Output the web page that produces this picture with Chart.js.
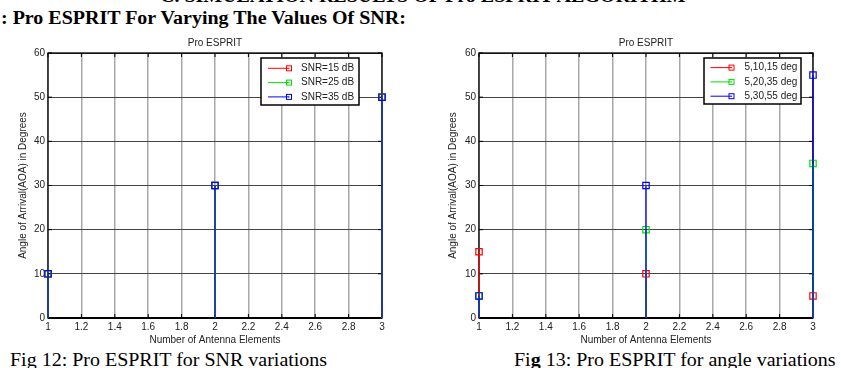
<!DOCTYPE html>
<html>
<head>
<meta charset="utf-8">
<script src="https://cdn.jsdelivr.net/npm/chart.js@4/dist/chart.umd.min.js"></script>
<style>
  html, body { margin: 0; padding: 0; background: #fff; }
  body { width: 841px; height: 368px; position: relative; overflow: hidden; }
  .abs { position: absolute; white-space: nowrap; transform-origin: 0 0; transform: scaleX(1.11); }
  .hdr { font-family: 'Liberation Serif', 'Times New Roman', serif; font-weight: bold; color: #000; font-size: 18px; }
  .cap { font-family: 'Liberation Serif', 'Times New Roman', serif; color: #000; font-size: 18px; }
  canvas { position: absolute; }
</style>
</head>
<body>
<div class="abs hdr" id="h1" style="left:160px; top:-14px;">C. SIMULATION RESULTS OF Pro ESPRIT ALGORITHM</div>
<div class="abs hdr" id="h2" style="left:1px; top:8px;">: Pro ESPRIT For Varying The Values Of SNR:</div>
<canvas id="c1" width="430" height="320" style="left:0px; top:30px;"></canvas>
<canvas id="c2" width="411" height="320" style="left:430px; top:30px;"></canvas>
<div class="abs cap" id="cap1" style="left:10px; top:350px;">Fig 12: Pro ESPRIT for SNR variations</div>
<div class="abs cap" id="cap2" style="left:514px; top:350px;">Fi<b>g</b> 13: Pro ESPRIT for angle variations</div>
<script>
// ---- data ----
const antennaElements = [1, 2, 3];
const xTickValues = [1, 1.2, 1.4, 1.6, 1.8, 2, 2.2, 2.4, 2.6, 2.8, 3];
const xTickLabels = ['1', '1.2', '1.4', '1.6', '1.8', '2', '2.2', '2.4', '2.6', '2.8', '3'];
const yTickValues = [0, 10, 20, 30, 40, 50, 60];

const snrLabels = ['SNR=15 dB', 'SNR=25 dB', 'SNR=35 dB'];
const snr15 = [10, 30, 50];
const snr25 = [10, 30, 50];
const snr35 = [10, 30, 50];

const angleLabels = ['5,10,15 deg', '5,20,35 deg', '5,30,55 deg'];
const angleSet1 = [15, 10, 5];
const angleSet2 = [5, 20, 35];
const angleSet3 = [5, 30, 55];

const chartTitle = 'Pro ESPRIT';
const xTitle = 'Number of Antenna Elements';
const yTitle = 'Angle of Arrival(AOA) in Degrees';

const seriesColors = ['#ff0000', '#00e000', '#0000ff'];

// ---- helpers ----
function stemData(vals) {
  const out = [];
  vals.forEach((v, i) => {
    out.push({ x: antennaElements[i], y: 0, base: true });
    out.push({ x: antennaElements[i], y: v });
    out.push({ x: antennaElements[i], y: null });
  });
  return out;
}

function makeDatasets(labels, seriesList) {
  return seriesList.map((vals, i) => ({
    label: labels[i],
    data: stemData(vals),
    borderColor: seriesColors[i],
    backgroundColor: 'rgba(0,0,0,0)',
    borderWidth: 1.2,
    pointStyle: 'rect',
    pointRadius: ctx => (ctx.raw && !ctx.raw.base && ctx.raw.y != null) ? 4.5 : 0,
    pointHoverRadius: 0,
    pointBorderWidth: 1.2,
    pointBorderColor: seriesColors[i],
    pointBackgroundColor: 'rgba(0,0,0,0)',
    spanGaps: false,
    tension: 0,
    clip: false,
    order: labels.length - 1 - i
  }));
}

const boxPlugin = {
  id: 'matlabBox',
  beforeDatasetsDraw(chart) {
    const { ctx, chartArea: a, scales } = chart;
    const x = scales.x, y = scales.y;
    ctx.save();
    ctx.strokeStyle = '#000';
    ctx.lineWidth = 1;
    ctx.beginPath();
    xTickValues.forEach(v => {
      const px = x.getPixelForValue(v);
      ctx.moveTo(px, a.bottom); ctx.lineTo(px, a.bottom - 4);
      ctx.moveTo(px, a.top); ctx.lineTo(px, a.top + 4);
    });
    yTickValues.forEach(v => {
      const py = y.getPixelForValue(v);
      ctx.moveTo(a.left, py); ctx.lineTo(a.left + 4, py);
      ctx.moveTo(a.right, py); ctx.lineTo(a.right - 4, py);
    });
    ctx.stroke();
    ctx.lineWidth = 1.3;
    ctx.strokeRect(a.left, a.top, a.right - a.left, a.bottom - a.top);
    ctx.lineWidth = 2;
    ctx.beginPath();
    ctx.moveTo(a.left, a.bottom); ctx.lineTo(a.right, a.bottom);
    ctx.stroke();
    ctx.restore();
  }
};

const legendPlugin = {
  id: 'boxLegend',
  afterDatasetsDraw(chart, args, o) {
    const { ctx, chartArea: a } = chart;
    const left = a.right - o.right - o.width;
    const top = a.top + o.top;
    ctx.save();
    ctx.fillStyle = '#fff';
    ctx.fillRect(left, top, o.width, o.height);
    ctx.strokeStyle = '#000';
    ctx.lineWidth = 1.5;
    ctx.strokeRect(left, top, o.width, o.height);
    ctx.font = '10px "Liberation Sans", Arial, sans-serif';
    ctx.textBaseline = 'middle';
    ctx.textAlign = 'left';
    chart.data.datasets.forEach((ds, i) => {
      const yy = top + o.firstRow + i * o.rowGap;
      ctx.strokeStyle = ds.borderColor;
      ctx.lineWidth = 1;
      ctx.beginPath();
      ctx.moveTo(left + o.lineStart, yy); ctx.lineTo(left + o.lineEnd, yy);
      ctx.stroke();
      ctx.strokeRect(left + o.marker - 2.5, yy - 2.5, 5, 5);
      ctx.fillStyle = ds.borderColor;
      ctx.fillRect(left + o.marker - 0.5, yy - 0.5, 1, 1);
      ctx.fillStyle = '#222';
      ctx.fillText(ds.label, left + o.text, yy);
    });
    ctx.restore();
  }
};

function makeChart(id, labels, seriesList, cfg) {
  const font = { family: '"Liberation Sans", Arial, sans-serif', size: 10 };
  return new Chart(document.getElementById(id), {
    type: 'line',
    data: { datasets: makeDatasets(labels, seriesList) },
    plugins: [boxPlugin, legendPlugin],
    options: {
      responsive: false,
      animation: false,
      events: [],
      layout: { padding: { left: 0, right: cfg.rightPad, top: 0, bottom: 0 } },
      plugins: {
        legend: { display: false },
        tooltip: { enabled: false },
        title: {
          display: true, text: chartTitle, fullSize: false, color: '#222',
          font: { ...font, weight: 'normal' }, padding: { top: 7, bottom: 4 }
        },
        boxLegend: cfg.legend
      },
      scales: {
        x: {
          type: 'linear', min: 1, max: 3,
          afterBuildTicks: s => { s.ticks = xTickValues.map(v => ({ value: v })); },
          afterFit: s => { s.height = 32; },
          ticks: {
            padding: 3, color: '#222', font, maxRotation: 0, autoSkip: false,
            callback: (v, i) => xTickLabels[i]
          },
          grid: { color: '#a8a8a8', lineWidth: 1.5, drawTicks: false },
          border: { display: false },
          title: { display: true, text: xTitle, color: '#222', font, padding: { top: 2, bottom: 4 } }
        },
        y: {
          type: 'linear', min: 0, max: 60,
          afterBuildTicks: s => { s.ticks = yTickValues.map(v => ({ value: v })); },
          afterFit: s => { s.width = cfg.yWidth; },
          ticks: { padding: 3, color: '#222', font },
          grid: { color: '#444', lineWidth: 1, drawTicks: false },
          border: { display: false },
          title: { display: true, text: yTitle, color: '#222', font, padding: { top: cfg.yTitlePad, bottom: 2 } }
        }
      }
    }
  });
}

makeChart('c1', snrLabels, [snr15, snr25, snr35], {
  rightPad: 48, yWidth: 48, yTitlePad: 17,
  legend: { right: 23, top: 5, width: 98, height: 47, firstRow: 10.3, rowGap: 14.3, lineStart: 7, lineEnd: 28, marker: 28, text: 40 }
});
makeChart('c2', angleLabels, [angleSet1, angleSet2, angleSet3], {
  rightPad: 28, yWidth: 49, yTitlePad: 17.5,
  legend: { right: 12, top: 5, width: 97, height: 46, firstRow: 9.6, rowGap: 14.3, lineStart: 6.5, lineEnd: 27, marker: 27.5, text: 40.5 }
});
</script>
</body>
</html>
